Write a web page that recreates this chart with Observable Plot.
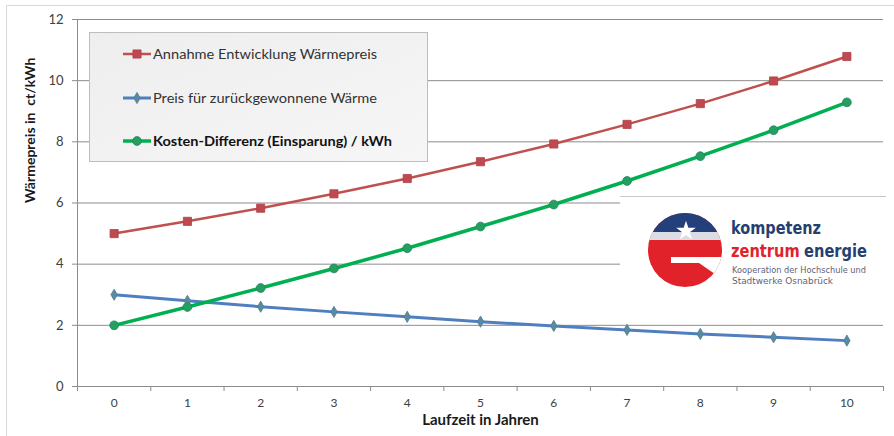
<!DOCTYPE html>
<html>
<head>
<meta charset="utf-8">
<script src="https://cdn.jsdelivr.net/npm/d3@7"></script>
<script src="https://cdn.jsdelivr.net/npm/@observablehq/plot@0.6"></script>
<style>
  html, body { margin: 0; padding: 0; background: #fff; }
  #chart { width: 894px; height: 436px; }
</style>
</head>
<body>
<div id="chart"></div>
<script>
// Laufzeit in Jahren
const years = [0, 1, 2, 3, 4, 5, 6, 7, 8, 9, 10];
// Annahme Entwicklung Wärmepreis (ct/kWh)
const waermepreis = [5.0, 5.4, 5.83, 6.3, 6.8, 7.35, 7.93, 8.57, 9.25, 9.99, 10.79];
// Preis für zurückgewonnene Wärme (ct/kWh)
const rueckgewonnen = [3.0, 2.8, 2.61, 2.44, 2.28, 2.12, 1.98, 1.85, 1.72, 1.61, 1.5];
// Kosten-Differenz (Einsparung) / kWh
const differenz = [2.0, 2.6, 3.22, 3.86, 4.52, 5.23, 5.95, 6.72, 7.53, 8.38, 9.29];

const yTicks = [0, 2, 4, 6, 8, 10, 12];
const seriesNames = [
  "Annahme Entwicklung Wärmepreis",
  "Preis für zurückgewonnene Wärme",
  "Kosten-Differenz (Einsparung) / kWh"
];
const xTitle = "Laufzeit in Jahren";
const yTitle = "Wärmepreis in  ct/kWh";

const series = [
  {name: seriesNames[0], values: waermepreis, stroke: "#c0504d", width: 2.5, symbol: "square", r: 4.6, fill: "#be4a4f", dotStroke: "#b0404a"},
  {name: seriesNames[1], values: rueckgewonnen, stroke: "#4f7fc0", width: 3, symbol: "diamond", r: 3.4, fill: "#5a8aa0", dotStroke: "#4d7d95"},
  {name: seriesNames[2], values: differenz, stroke: "#00b050", width: 3.5, symbol: "circle", r: 4.4, fill: "#23a05e", dotStroke: "#2a8068"}
];
const rows = s => years.map((x, i) => ({x, y: s.values[i], name: s.name}));

// category boundaries for the x-axis tick marks
const boundaries = d3.range(-0.5, 11, 1);

const textColor = "#404040";
const gridColor = "#8c8c8c";
const font = "Lato, 'Open Sans', sans-serif";

const marks = [
  Plot.ruleY(yTicks.slice(1), {stroke: gridColor, strokeWidth: 1}),
  Plot.ruleX([-0.5], {stroke: gridColor}),
  Plot.ruleY([0], {stroke: gridColor}),
  Plot.axisY(yTicks, {tickSize: 5, tickPadding: 9, fontSize: 13, color: textColor, stroke: gridColor, label: null}),
  Plot.axisX(boundaries, {tickSize: 5, tickFormat: () => "", stroke: gridColor, label: null}),
  Plot.axisX(years, {tickSize: 0, tickPadding: 12, fontSize: 12, color: textColor, label: null}),
  Plot.text([yTitle], {frameAnchor: "left", dx: -47, rotate: -90, fontSize: 14, fontWeight: "bold", fill: "#1a1a1a"}),
  Plot.text([xTitle], {frameAnchor: "bottom", dy: 38, fontSize: 15, fontWeight: "bold", fill: "#1a1a1a"})
];
for (const s of series) {
  marks.push(Plot.line(rows(s), {x: "x", y: "y", stroke: s.stroke, strokeWidth: s.width}));
  marks.push(Plot.dot(rows(s), {x: "x", y: "y", symbol: s.symbol, r: s.r, fill: s.fill, stroke: s.dotStroke, strokeWidth: 0.8}));
}

const chart = Plot.plot({
  width: 894,
  height: 436,
  marginTop: 19,
  marginBottom: 50,
  marginLeft: 77,
  marginRight: 11,
  x: {domain: [-0.5, 10.5]},
  y: {domain: [0, 12]},
  style: {fontFamily: font, background: "white", overflow: "visible"},
  marks
});
document.getElementById("chart").appendChild(chart);

// ---- decoration layered over the plot: frame, legend box, logo ----
const svg = d3.select(chart);

// outer chart frame
svg.append("rect").attr("x", 6.5).attr("y", 5.5).attr("width", 894).attr("height", 440)
  .attr("fill", "none").attr("stroke", "#d9d9d9");

// legend
const defs = svg.append("defs");
const lg = defs.append("linearGradient").attr("id", "legendFill").attr("x1", 0).attr("y1", 0).attr("x2", 1).attr("y2", 1);
lg.append("stop").attr("offset", "0%").attr("stop-color", "#eeeeee");
lg.append("stop").attr("offset", "100%").attr("stop-color", "#f6f6f6");

const legend = svg.append("g").attr("font-family", font).attr("text-anchor", "start");
legend.append("rect").attr("x", 89.5).attr("y", 32.5).attr("width", 338).attr("height", 129)
  .attr("fill", "url(#legendFill)").attr("stroke", "#bdbdbd");
const legendRows = [54, 98, 141];
const legendLens = [224, 224, 239];
series.forEach((s, i) => {
  const y = legendRows[i];
  legend.append("line").attr("x1", 123).attr("x2", 151).attr("y1", y).attr("y2", y)
    .attr("stroke", s.stroke).attr("stroke-width", s.width);
  const sym = {square: d3.symbolSquare, diamond: d3.symbolDiamond, circle: d3.symbolCircle}[s.symbol];
  legend.append("path").attr("d", d3.symbol(sym, Math.PI * s.r * s.r)())
    .attr("transform", `translate(137,${y})`).attr("fill", s.fill).attr("stroke", s.dotStroke).attr("stroke-width", 0.8);
  legend.append("text").attr("x", 153).attr("y", y).attr("dy", "0.35em")
    .attr("text-anchor", "start")
    .attr("font-size", 14).attr("font-weight", i === 2 ? "bold" : "normal")
    .attr("fill", i === 2 ? "#111" : "#333")
    .attr("textLength", legendLens[i]).attr("lengthAdjust", "spacingAndGlyphs")
    .text(s.name);
});

// logo panel
const logo = svg.append("g").attr("text-anchor", "start");
logo.append("rect").attr("x", 620).attr("y", 196).attr("width", 266).attr("height", 104).attr("fill", "white");
logo.append("line").attr("x1", 620).attr("x2", 886).attr("y1", 196.5).attr("y2", 196.5).attr("stroke", "#c8c8c8");

const cx = 685, cy = 250, rr = 37;
defs.append("clipPath").attr("id", "logoClip").append("circle").attr("cx", cx).attr("cy", cy).attr("r", rr);
const emb = logo.append("g").attr("clip-path", "url(#logoClip)");
emb.append("rect").attr("x", cx - rr).attr("y", cy - rr).attr("width", 2 * rr).attr("height", 2 * rr).attr("fill", "#e1222b");
emb.append("rect").attr("x", cx - rr).attr("y", cy - rr).attr("width", 2 * rr).attr("height", 19).attr("fill", "#23407a");
emb.append("rect").attr("x", cx - rr).attr("y", cy - 18).attr("width", 2 * rr).attr("height", 8).attr("fill", "#dcdde4");
emb.append("path").attr("d", d3.symbol(d3.symbolStar, 120)()).attr("transform", `translate(${cx + 1},${cy - 19})`).attr("fill", "white");
emb.append("rect").attr("x", cx - 14).attr("y", cy + 7).attr("width", 60).attr("height", 6).attr("fill", "white");
emb.append("path").attr("d", `M${cx + 14},${cy + 13} L${cx + 40},${cy + 13} L${cx + 40},${cy + 30} L${cx + 27},${cy + 22} Z`).attr("fill", "white");

const lt = logo.append("g").attr("font-family", "'Liberation Sans Narrow', 'DejaVu Sans Condensed', Roboto, sans-serif")
  .attr("font-weight", "bold").attr("font-size", 18.5);
lt.append("text").attr("x", 731).attr("y", 234).attr("fill", "#273f70")
  .attr("textLength", 90).attr("lengthAdjust", "spacingAndGlyphs").text("kompetenz");
// second line: the red word sets where the navy word starts; the pair is squeezed to 136px
const line2 = lt.append("g");
const zentrum = line2.append("text").attr("x", 0).attr("y", 257).attr("fill", "#e1222b").text("zentrum");
const zw = zentrum.node().getComputedTextLength();
const energie = line2.append("text").attr("x", zw + 5).attr("y", 257).attr("fill", "#273f70").text("energie");
const total = zw + 5 + energie.node().getComputedTextLength();
line2.attr("transform", `translate(731,0) scale(${136 / total},1)`);
lt.append("text").attr("x", 732).attr("y", 273).attr("font-size", 9).attr("font-weight", "normal").attr("fill", "#5f6378")
  .attr("textLength", 134).attr("lengthAdjust", "spacingAndGlyphs").text("Kooperation der Hochschule und");
lt.append("text").attr("x", 732).attr("y", 284).attr("font-size", 9).attr("font-weight", "normal").attr("fill", "#5f6378")
  .attr("textLength", 101).attr("lengthAdjust", "spacingAndGlyphs").text("Stadtwerke Osnabrück");
</script>
</body>
</html>
